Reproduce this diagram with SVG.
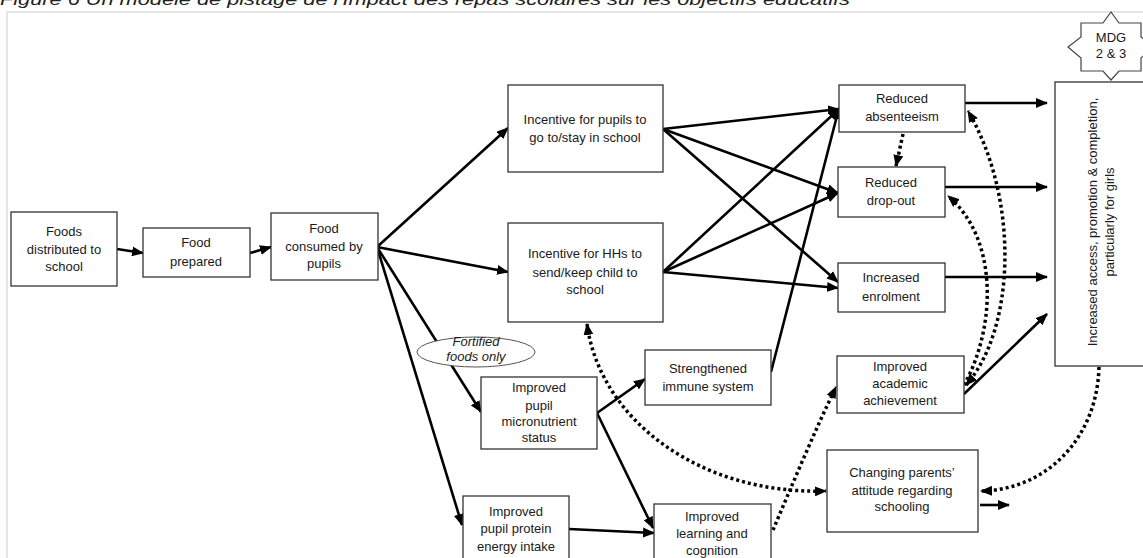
<svg xmlns="http://www.w3.org/2000/svg" width="1143" height="558" viewBox="0 0 1143 558">
<defs>
<style>
.box{fill:#fff;stroke:#333;stroke-width:1.3}
.t{font-family:"Liberation Sans",Arial,sans-serif;font-size:13px;fill:#1a1a1a;text-anchor:middle}
.s{fill:none;stroke:#000;stroke-width:2.6}
.d{fill:none;stroke:#000;stroke-width:3.5;stroke-dasharray:3 3}
</style>
<marker id="a" markerUnits="userSpaceOnUse" markerWidth="12" markerHeight="10" refX="11" refY="5" orient="auto-start-reverse" viewBox="0 0 12 10">
<path d="M0,0 L12,5 L0,10 z" fill="#000"/>
</marker>
</defs>
<rect x="0" y="0" width="1143" height="558" fill="#fff"/>
<text x="0" y="5" font-family="'Liberation Sans',Arial,sans-serif" font-size="17" font-style="italic" fill="#222" textLength="850" lengthAdjust="spacingAndGlyphs">Figure 6 Un modèle de pistage de l'Impact des repas scolaires sur les objectifs éducatifs</text>
<rect x="7" y="12" width="1160" height="560" fill="none" stroke="#d4d4d4" stroke-width="1.2"/>

<g id="connectors">
<path class="s" marker-end="url(#a)" d="M117,249 L143,253"/>
<path class="s" marker-end="url(#a)" d="M250,253 L271,247"/>
<path class="s" marker-end="url(#a)" d="M377,247 L508,128"/>
<path class="s" marker-end="url(#a)" d="M377,247 L508,272"/>
<path class="s" marker-end="url(#a)" d="M377,247 L481,412"/>
<path class="s" marker-end="url(#a)" d="M377,247 L462,525"/>
<path class="s" marker-end="url(#a)" d="M663,129 L839,109"/>
<path class="s" marker-end="url(#a)" d="M663,129 L838,193"/>
<path class="s" marker-end="url(#a)" d="M663,129 L838,282"/>
<path class="s" marker-end="url(#a)" d="M663,272 L839,109"/>
<path class="s" marker-end="url(#a)" d="M663,272 L838,193"/>
<path class="s" marker-end="url(#a)" d="M663,272 L838,288"/>
<path class="s" marker-end="url(#a)" d="M771,372 L839,108"/>
<path class="s" marker-end="url(#a)" d="M597,413 L645,379"/>
<path class="s" marker-end="url(#a)" d="M597,413 L653,528"/>
<path class="s" marker-end="url(#a)" d="M569,529 L654,533"/>
<path class="s" marker-end="url(#a)" d="M965,103 L1047,103"/>
<path class="s" marker-end="url(#a)" d="M945,187 L1047,187"/>
<path class="s" marker-end="url(#a)" d="M945,277 L1047,277"/>
<path class="s" marker-end="url(#a)" d="M964,394 L1047,314"/>
<path class="s" marker-end="url(#a)" d="M980,505 L1009,505"/>
<path class="d" marker-end="url(#a)" d="M903,134 L896,166"/>
<path class="d" marker-start="url(#a)" marker-end="url(#a)" d="M966,385 C1015,330 1020,200 968,111"/>
<path class="d" marker-end="url(#a)" d="M964,385 C995,330 1000,240 948,196"/>
<path class="d" marker-end="url(#a)" d="M1099,367 C1097,440 1045,490 981,491"/>
<path class="d" marker-start="url(#a)" marker-end="url(#a)" d="M587,324 C600,420 700,495 826,491"/>
<path class="d" marker-end="url(#a)" d="M773,530 C790,490 815,430 836,387"/>
</g>

<g id="n-foods-distributed"><rect class="box" x="11" y="212" width="106" height="74"/>
<text class="t" x="64" y="236">Foods</text><text class="t" x="64" y="254">distributed to</text><text class="t" x="64" y="271">school</text></g>
<g id="n-food-prepared"><rect class="box" x="143" y="228" width="107" height="49"/>
<text class="t" x="196" y="247">Food</text><text class="t" x="196" y="266">prepared</text></g>
<g id="n-food-consumed"><rect class="box" x="271" y="213" width="107" height="67"/>
<text class="t" x="324" y="233">Food</text><text class="t" x="324" y="251">consumed by</text><text class="t" x="324" y="268">pupils</text></g>
<g id="n-incentive-pupils"><rect class="box" x="508" y="85" width="155" height="87"/>
<text class="t" x="585" y="124">Incentive for pupils to</text><text class="t" x="585" y="142">go to/stay in school</text></g>
<g id="n-incentive-hhs"><rect class="box" x="508" y="223" width="155" height="99"/>
<text class="t" x="585" y="258">Incentive for HHs to</text><text class="t" x="585" y="277">send/keep child to</text><text class="t" x="585" y="294">school</text></g>
<g id="n-absenteeism"><rect class="box" x="839" y="85" width="126" height="47"/>
<text class="t" x="902" y="103">Reduced</text><text class="t" x="902" y="121">absenteeism</text></g>
<g id="n-dropout"><rect class="box" x="838" y="167" width="107" height="50"/>
<text class="t" x="891" y="187">Reduced</text><text class="t" x="891" y="205">drop-out</text></g>
<g id="n-enrolment"><rect class="box" x="838" y="263" width="107" height="49"/>
<text class="t" x="891" y="282">Increased</text><text class="t" x="891" y="301">enrolment</text></g>
<g id="n-fortified"><ellipse cx="476" cy="352" rx="59" ry="15" fill="#fff" stroke="#555" stroke-width="1"/>
<text class="t" x="476" y="346" font-size="11.5" font-style="italic" fill="#2a2a40">Fortified</text><text class="t" x="476" y="361" font-size="11.5" font-style="italic" fill="#2a2a40">foods only</text></g>
<g id="n-micronutrient"><rect class="box" x="481" y="377" width="116" height="72"/>
<text class="t" x="539" y="392">Improved</text><text class="t" x="539" y="410">pupil</text><text class="t" x="539" y="426">micronutrient</text><text class="t" x="539" y="442">status</text></g>
<g id="n-immune"><rect class="box" x="645" y="350" width="126" height="55"/>
<text class="t" x="708" y="373">Strengthened</text><text class="t" x="708" y="391">immune system</text></g>
<g id="n-protein"><rect class="box" x="463" y="496" width="106" height="70"/>
<text class="t" x="516" y="516">Improved</text><text class="t" x="516" y="533">pupil  protein</text><text class="t" x="516" y="551">energy intake</text></g>
<g id="n-learning"><rect class="box" x="654" y="504" width="117" height="70"/>
<text class="t" x="712" y="521">Improved</text><text class="t" x="712" y="538">learning and</text><text class="t" x="712" y="555">cognition</text></g>
<g id="n-academic"><rect class="box" x="837" y="356" width="127" height="57"/>
<text class="t" x="900" y="371">Improved</text><text class="t" x="900" y="388">academic</text><text class="t" x="900" y="405">achievement</text></g>
<g id="n-parents"><rect class="box" x="827" y="450" width="151" height="82"/>
<text class="t" x="902" y="477">Changing parents’</text><text class="t" x="902" y="495">attitude regarding</text><text class="t" x="902" y="511">schooling</text></g>
<g id="n-outcome"><rect class="box" x="1055" y="82" width="100" height="284"/>
<text class="t" transform="translate(1097,222) rotate(-90)">Increased access, promotion &amp; completion,</text>
<text class="t" transform="translate(1114,222) rotate(-90)">particularly for girls</text></g>
<g id="n-mdg"><polygon points="1081,23 1103,23 1111,12 1119,23 1141,23 1141,37 1154,47 1141,58 1141,71 1119,71 1111,80 1103,71 1081,71 1081,58 1068,47 1081,37" fill="#fff" stroke="#444" stroke-width="1.2"/>
<text class="t" x="1111" y="42" font-size="11" fill="#e8232f">MDG</text><text class="t" x="1111" y="58" font-size="11" fill="#e8232f">2 &amp; 3</text></g>
</svg>
